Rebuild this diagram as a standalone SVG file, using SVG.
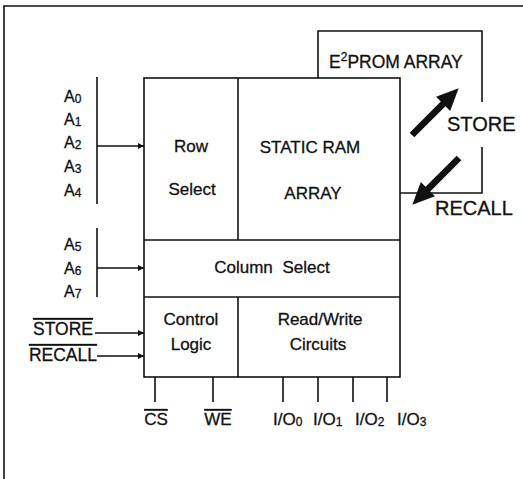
<svg xmlns="http://www.w3.org/2000/svg" width="523" height="479" viewBox="0 0 523 479">
<style>
.ln{fill:none;stroke:#111;stroke-width:1.6}
.bx{fill:#fff;stroke:#111;stroke-width:1.6}
text{font-family:"Liberation Sans",Arial,Helvetica,sans-serif;fill:#111;stroke:#111;stroke-width:0.3}
.lb{font-size:17px;text-anchor:middle}
.ad{font-size:16px}
.sub{font-size:12px}
.big{font-size:20px}
.pin{font-size:17px}
.ov{text-decoration:overline}
</style>
<defs>
<marker id="ah" viewBox="0 0 10 10" refX="10" refY="5" markerWidth="9" markerHeight="6" markerUnits="userSpaceOnUse" orient="auto">
<path d="M0,0 L10,5 L0,10 z" fill="#111"/>
</marker>
<polygon id="thick" points="0,-3.3 44,-3.3 44,-10 66,0 44,10 44,3.3 0,3.3" fill="#111"/>
</defs>
<rect width="523" height="479" fill="#fff"/>
<path class="ln" d="M4,479 V6 H523"/>

<g id="eeprom">
<path class="ln" d="M318,78 V31 H482 V102 M482,147 V193 H400"/>
<text x="329" y="68" style="font-size:17.5px">E<tspan style="font-size:12px" dy="-7">2</tspan><tspan dy="7">PROM ARRAY</tspan></text>
</g>

<g id="main">
<rect class="bx" x="144" y="78" width="256" height="299"/>
</g>
<g id="row-select">
<path class="ln" d="M238,78 V240"/>
<text class="lb" x="191" y="152">Row</text>
<text class="lb" x="192" y="195">Select</text>
</g>
<g id="sram">
<text class="lb" x="310" y="153">STATIC RAM</text>
<text class="lb" x="313" y="199">ARRAY</text>
</g>
<g id="column-select">
<path class="ln" d="M144,240 H400 M144,297 H400"/>
<text class="lb" x="272" y="273" word-spacing="5">Column Select</text>
</g>
<g id="control-logic">
<path class="ln" d="M238,297 V377"/>
<text class="lb" x="191" y="325">Control</text>
<text class="lb" x="191" y="350">Logic</text>
</g>
<g id="read-write">
<text class="lb" x="320" y="325">Read/Write</text>
<text class="lb" x="318" y="350">Circuits</text>
</g>

<g id="row-address">
<path class="ln" d="M97,77 V204"/>
<text class="ad" x="64" y="102">A<tspan class="sub" dy="1">0</tspan></text>
<text class="ad" x="64" y="125">A<tspan class="sub" dy="1">1</tspan></text>
<text class="ad" x="64" y="148">A<tspan class="sub" dy="1">2</tspan></text>
<text class="ad" x="64" y="172">A<tspan class="sub" dy="1">3</tspan></text>
<text class="ad" x="64" y="196">A<tspan class="sub" dy="1">4</tspan></text>
</g>
<g id="col-address">
<path class="ln" d="M97,228 V297"/>
<text class="ad" x="64" y="250">A<tspan class="sub" dy="1">5</tspan></text>
<text class="ad" x="64" y="274">A<tspan class="sub" dy="1">6</tspan></text>
<text class="ad" x="64" y="297">A<tspan class="sub" dy="1">7</tspan></text>
</g>
<g id="ctrl-inputs">
<text class="ov" x="93" y="335" text-anchor="end" style="font-size:17.5px">STORE</text>
<text class="ov" x="97" y="361" text-anchor="end" style="font-size:17.5px">RECALL</text>
</g>
<g id="pins">
<text class="pin ov" x="156" y="425" text-anchor="middle">CS</text>
<text class="pin ov" x="218" y="425" text-anchor="middle">WE</text>
<text class="pin" x="273" y="425">I/O<tspan class="sub" dy="1">0</tspan></text>
<text class="pin" x="313" y="425">I/O<tspan class="sub" dy="1">1</tspan></text>
<text class="pin" x="355" y="425">I/O<tspan class="sub" dy="1">2</tspan></text>
<text class="pin" x="397" y="425">I/O<tspan class="sub" dy="1">3</tspan></text>
</g>
<g id="transfer-labels">
<text class="big" x="447" y="131">STORE</text>
<text class="big" x="435" y="215">RECALL</text>
</g>

<g id="connectors">
<path class="ln" d="M97,146 H144" marker-end="url(#ah)"/>
<path class="ln" d="M97,268 H144" marker-end="url(#ah)"/>
<path class="ln" d="M95,333 H144" marker-end="url(#ah)"/>
<path class="ln" d="M97,356 H144" marker-end="url(#ah)"/>
<path class="ln" d="M155,377 V402 M213,377 V402 M283,377 V402 M318,377 V402 M353,377 V402 M387,377 V402"/>
<use href="#thick" transform="translate(412,135) rotate(-45)"/>
<use href="#thick" transform="translate(459,158) rotate(135)"/>
</g>
</svg>
